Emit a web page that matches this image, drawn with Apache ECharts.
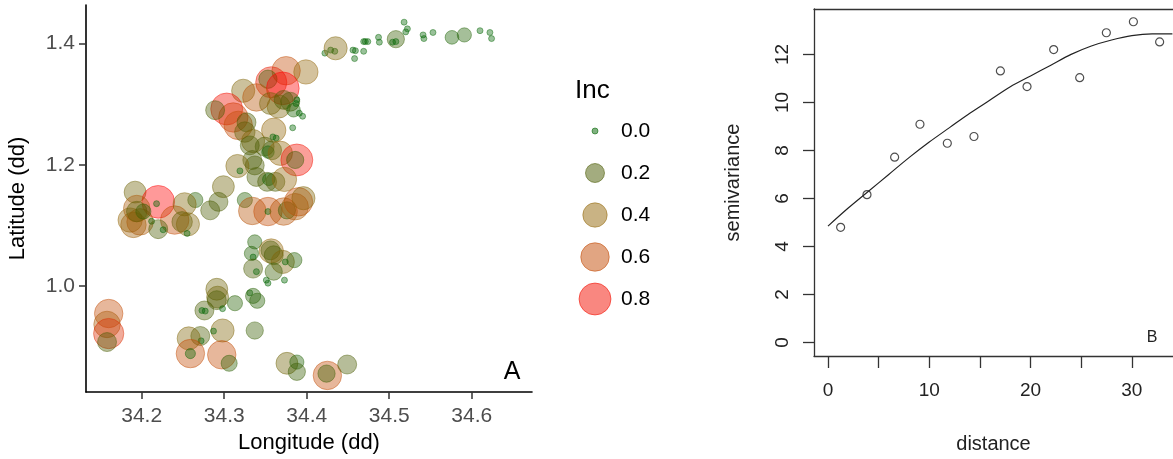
<!DOCTYPE html>
<html><head><meta charset="utf-8">
<script src="https://cdn.jsdelivr.net/npm/echarts@6/dist/echarts.min.js"></script>
<style>html,body{margin:0;padding:0;background:#fff}#c{width:1173px;height:459px}</style>
</head><body><div id="c"></div>
<script>
// ---------- Panel A data ----------
const lon = [34.422,34.429,34.434,34.435,34.456,34.459,34.458,34.469,34.469,34.471,34.474,34.487,34.488,34.508,34.504,34.508,34.518,34.522,34.520,34.541,34.542,34.553,34.576,34.591,34.610,34.622,34.624,
34.375,34.399,34.357,34.353,34.371,34.323,34.339,34.356,34.366,34.372,34.380,34.384,34.388,34.387,34.391,34.395,34.383,34.303,34.311,34.289,34.317,34.327,34.325,34.360,34.359,34.363,34.335,34.331,34.349,34.358,34.353,34.368,34.388,34.386,34.334,34.337,34.316,34.319,34.339,34.352,34.354,34.362,34.373,34.299,
34.192,34.220,34.218,34.240,34.194,34.186,34.190,34.198,34.202,34.194,34.212,34.220,34.226,34.265,34.252,34.249,34.256,34.255,34.283,34.293,34.325,34.334,34.353,34.353,34.372,34.376,34.390,34.396,34.386,
34.337,34.333,34.335,34.357,34.356,34.360,34.371,34.374,34.385,34.335,34.339,34.360,34.351,34.353,34.373,34.291,34.292,34.291,34.313,34.331,34.335,34.340,34.276,34.273,34.277,34.298,34.298,34.287,34.271,34.272,34.257,34.259,34.259,34.297,34.306,34.337,34.376,34.388,34.388,34.425,34.424,34.449,
34.160,34.158,34.160,34.158];
const lat = [1.384,1.389,1.387,1.392,1.389,1.388,1.375,1.387,1.403,1.403,1.403,1.410,1.402,1.407,1.402,1.403,1.435,1.424,1.419,1.414,1.408,1.418,1.410,1.414,1.421,1.418,1.408,
1.355,1.353,1.336,1.341,1.326,1.322,1.311,1.301,1.296,1.307,1.304,1.290,1.307,1.301,1.285,1.280,1.261,1.292,1.278,1.290,1.265,1.270,1.254,1.257,1.246,1.244,1.239,1.232,1.230,1.224,1.221,1.219,1.208,1.208,1.208,1.199,1.198,1.190,1.180,1.172,1.176,1.172,1.176,1.164,
1.155,1.139,1.136,1.109,1.128,1.109,1.101,1.106,1.123,1.123,1.107,1.094,1.093,1.142,1.135,1.106,1.102,1.087,1.125,1.139,1.142,1.124,1.123,1.123,1.123,1.125,1.139,1.145,1.131,
1.073,1.054,1.048,1.058,1.059,1.051,1.040,1.040,1.043,1.029,1.024,1.024,1.010,1.005,1.010,0.995,0.982,0.977,0.972,0.989,0.984,0.976,0.960,0.960,0.959,0.963,0.927,0.926,0.918,0.910,0.914,0.889,0.889,0.887,0.873,0.927,0.873,0.875,0.859,0.853,0.856,0.871,
0.955,0.937,0.922,0.908];
const inc = [0,0,0,0.35,0,0,0,0,0,0,0,0,0,0.15,0,0,0,0,0,0,0,0,0.07,0.08,0,0,0,
0.6,0.4,0.75,0.18,0.85,0.35,0.55,0.3,0.35,0.2,0.2,0.07,0,0,0,0,0,0.8,0.65,0.2,0.6,0.2,0.25,0.4,0,0,0.35,0.2,0.2,0.2,0.05,0.4,0.8,0.15,0.2,0.2,0.35,0,0.2,0.2,0.05,0.2,0.4,0.3,
0.3,0.85,0,0.6,0.5,0.4,0.45,0.5,0.1,0.25,0,0.2,0,0.1,0.35,0.25,0.35,0,0.2,0.2,0.1,0.55,0.6,0,0.55,0.15,0.6,0.35,0.5,
0.08,0.08,0,0.4,0.2,0.2,0.35,0,0.1,0.2,0,0.15,0,0,0,0.3,0.3,0.2,0.1,0,0.1,0.1,0.2,0,0,0,0.35,0,0.2,0,0.35,0.6,0.02,0.6,0.12,0.15,0.3,0.08,0.15,0.6,0.15,0.2,
0.6,0.5,0.7,0.2];
const legendValues = [0.0, 0.2, 0.4, 0.6, 0.8];
const legendLabels = ['0.0', '0.2', '0.4', '0.6', '0.8'];
const lonTicks = [34.2, 34.3, 34.4, 34.5, 34.6];
const latTicks = [1.0, 1.2, 1.4];

// ---------- Panel B data ----------
const distPts = [1.25, 3.85, 6.58, 9.08, 11.78, 14.41, 17.02, 19.65, 22.28, 24.85, 27.48, 30.15, 32.74];
const semiPts = [4.8, 6.16, 7.72, 9.09, 8.30, 8.58, 11.31, 10.66, 12.2, 11.03, 12.9, 13.36, 12.52];
const curveDist = [0, 2, 4, 6, 8, 10, 12, 14, 16, 18, 20, 22, 24, 26, 28, 30, 32, 34];
const curveSemi = [4.85, 5.6, 6.3, 7.0, 7.7, 8.35, 8.95, 9.55, 10.1, 10.65, 11.1, 11.55, 12.0, 12.35, 12.6, 12.78, 12.85, 12.85];
const distTicks = [0, 5, 10, 15, 20, 25, 30];
const distLabels = [0, 10, 20, 30];
const semiTicks = [0, 2, 4, 6, 8, 10, 12];

// ---------- styling helpers ----------
const STOPS = [[0,[0,100,0]],[0.2,[72,90,0]],[0.4,[147,103,10]],[0.6,[195,75,5]],[0.85,[255,0,0]]];
function rgbOf(v){
  if (v <= STOPS[0][0]) return STOPS[0][1];
  for (let i = 1; i < STOPS.length; i++) {
    if (v <= STOPS[i][0]) {
      const a = STOPS[i-1], b = STOPS[i];
      const t = (v - a[0]) / (b[0] - a[0]);
      return a[1].map((c, k) => Math.round(c + (b[1][k] - c) * t));
    }
  }
  return STOPS[STOPS.length-1][1];
}
function rgba(v, a){ const c = rgbOf(v); return `rgba(${c[0]},${c[1]},${c[2]},${a})`; }
function sizeOf(v){ return 6 + 29 * Math.sqrt(Math.max(0, v)); }

const FONT = '"Liberation Sans", Arial, sans-serif';

const pointsA = lon.map((x, i) => ({
  value: [x, lat[i], inc[i]],
  itemStyle: { color: rgba(inc[i], 0.5), borderColor: rgba(inc[i], 0.55), borderWidth: 1 }
}));

const legendEls = [{
  type: 'text', left: 575, top: 78,
  style: { text: 'Inc', fontSize: 26, fontFamily: FONT, fill: '#000' }
}];
legendValues.forEach((v, i) => {
  const cy = 131 + i * 42;
  legendEls.push({
    type: 'circle', shape: { cx: 595, cy: cy, r: sizeOf(v) / 2 },
    style: { fill: rgba(v, 0.5), stroke: rgba(v, 0.55), lineWidth: 1 }
  });
  legendEls.push({
    type: 'text', x: 621, y: cy,
    style: { text: legendLabels[i], fontSize: 21, fontFamily: FONT, fill: '#000', verticalAlign: 'middle', align: 'left' }
  });
});

const B_MIN_X = -1.38, B_MAX_X = 34.06;

const chart = echarts.init(document.getElementById('c'), null, { renderer: 'canvas' });
chart.setOption({
  animation: false,
  backgroundColor: '#fff',
  grid: [
    { left: 86, top: 5, width: 446, height: 387 },
    { left: 814, top: 9, right: 0, height: 350 }
  ],
  xAxis: [
    {
      gridIndex: 0, type: 'value', min: 34.1325, max: 34.673,
      name: 'Longitude (dd)', nameLocation: 'middle', nameGap: 39,
      nameTextStyle: { fontSize: 22, color: '#000', fontFamily: FONT },
      axisLine: { show: true, onZero: false, lineStyle: { color: '#000', width: 1.6 } },
      axisTick: { show: true, length: 7, customValues: lonTicks, lineStyle: { color: '#333', width: 1.5 } },
      axisLabel: { customValues: lonTicks, formatter: v => v.toFixed(1), fontSize: 21, color: '#4d4d4d', margin: 14, fontFamily: FONT },
      splitLine: { show: false }
    },
    {
      gridIndex: 1, type: 'value', min: B_MIN_X, max: B_MAX_X, position: 'bottom',
      name: 'distance', nameLocation: 'middle', nameGap: 78,
      nameTextStyle: { fontSize: 20, color: '#222', fontFamily: FONT },
      axisLine: { show: true, onZero: false, lineStyle: { color: '#333', width: 1.3 } },
      axisTick: { show: true, length: 12, customValues: distTicks, lineStyle: { color: '#333', width: 1.3 } },
      axisLabel: { customValues: distLabels, fontSize: 19, color: '#222', margin: 25, fontFamily: FONT },
      splitLine: { show: false }
    },
    {
      gridIndex: 1, type: 'value', min: B_MIN_X, max: B_MAX_X, position: 'top',
      axisLine: { show: true, onZero: false, lineStyle: { color: '#333', width: 1.3 } },
      axisTick: { show: false }, axisLabel: { show: false }, splitLine: { show: false }
    }
  ],
  yAxis: [
    {
      gridIndex: 0, type: 'value', min: 0.8257, max: 1.4633,
      name: 'Latitude (dd)', nameLocation: 'middle', nameGap: 57,
      nameTextStyle: { fontSize: 22, color: '#000', fontFamily: FONT },
      axisLine: { show: true, onZero: false, lineStyle: { color: '#000', width: 1.6 } },
      axisTick: { show: true, length: 7, customValues: latTicks, lineStyle: { color: '#333', width: 1.5 } },
      axisLabel: { customValues: latTicks, formatter: v => v.toFixed(1), fontSize: 21, color: '#4d4d4d', margin: 11, fontFamily: FONT },
      splitLine: { show: false }
    },
    {
      gridIndex: 1, type: 'value', min: -0.56, max: 13.89,
      name: 'semivariance', nameLocation: 'middle', nameGap: 71,
      nameTextStyle: { fontSize: 20, color: '#222', fontFamily: FONT },
      axisLine: { show: true, onZero: false, lineStyle: { color: '#333', width: 1.3 } },
      axisTick: { show: true, length: 11, customValues: semiTicks, lineStyle: { color: '#333', width: 1.3 } },
      axisLabel: { customValues: semiTicks, rotate: 90, fontSize: 19, color: '#222', margin: 22, fontFamily: FONT },
      splitLine: { show: false }
    }
  ],
  series: [
    {
      type: 'scatter', xAxisIndex: 0, yAxisIndex: 0,
      symbol: 'circle',
      symbolSize: val => sizeOf(val[2]),
      data: pointsA,
      emphasis: { disabled: true }
    },
    {
      type: 'line', xAxisIndex: 1, yAxisIndex: 1,
      data: curveDist.map((d, i) => [d, curveSemi[i]]),
      smooth: 0.3, showSymbol: false,
      lineStyle: { color: '#222', width: 1.2 },
      clip: true
    },
    {
      type: 'scatter', xAxisIndex: 1, yAxisIndex: 1,
      symbol: 'circle', symbolSize: 8,
      data: distPts.map((d, i) => [d, semiPts[i]]),
      itemStyle: { color: 'rgba(255,255,255,0)', borderColor: '#222', borderWidth: 1.2 }
    }
  ],
  graphic: legendEls.concat([
    { type: 'text', x: 512, y: 372, style: { text: 'A', fontSize: 25, fontFamily: FONT, fill: '#000', align: 'center', verticalAlign: 'middle' } },
    { type: 'text', x: 1152, y: 338, style: { text: 'B', fontSize: 16, fontFamily: FONT, fill: '#222', align: 'center', verticalAlign: 'middle' } }
  ])
});
</script>
</body></html>
